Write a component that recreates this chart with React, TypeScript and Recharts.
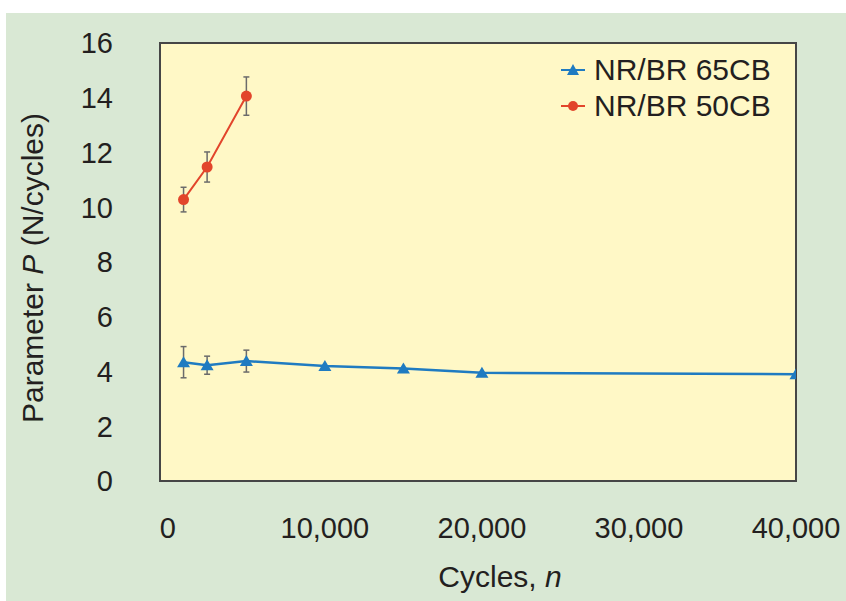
import { LineChart, Line, XAxis, YAxis, ErrorBar, ReferenceArea, Legend, Label } from 'recharts'

const cycles65 = [1000, 2500, 5000, 10000, 15000, 20000, 40000]
const param65 = [4.34, 4.23, 4.38, 4.2, 4.11, 3.95, 3.9]
const err65 = [0.57, 0.33, 0.4, null, null, null, null]

const cycles50 = [1000, 2500, 5000]
const param50 = [10.28, 11.47, 14.06]
const err50 = [0.45, 0.55, 0.7]

const seriesNames = ['NR/BR 65CB', 'NR/BR 50CB']
const xTicks = [0, 10000, 20000, 30000, 40000]
const yTicks = [0, 2, 4, 6, 8, 10, 12, 14, 16]

const BLUE = '#1f7bc1'
const RED = '#e2452b'
const INK = '#231f20'
const FONT = '"Liberation Sans", Arial, sans-serif'

const data65 = cycles65.map((n, i) => ({ n, p: param65[i], err: err65[i] }))
const data50 = cycles50.map((n, i) => ({ n, p: param50[i], err: err50[i] }))

function Triangle({ cx, cy, fill, size = 6.5 }: any) {
  if (cx == null || cy == null) return null
  return <path d={`M${cx},${cy - 6} L${cx + size},${cy + 5} L${cx - size},${cy + 5} Z`} fill={fill} />
}

function LegendBox({ payload }: any) {
  const items = [...(payload || [])].sort((a: any, b: any) => seriesNames.indexOf(a.value) - seriesNames.indexOf(b.value))
  return (
    <div style={{ fontFamily: FONT, fontSize: 30, color: INK }}>
      {items.map((e: any) => (
        <div key={e.value} style={{ display: 'flex', alignItems: 'center', height: 36, lineHeight: '36px' }}>
          <svg width={24} height={20} style={{ marginRight: 9 }}>
            <line x1={0} y1={10} x2={24} y2={10} stroke={e.color} strokeWidth={2} />
            {e.value === seriesNames[0]
              ? <Triangle cx={12} cy={10} fill={e.color} size={6} />
              : <circle cx={12} cy={10} r={5} fill={e.color} />}
          </svg>
          <span>{e.value}</span>
        </div>
      ))}
    </div>
  )
}

export default function App() {
  return (
    <div style={{ position: 'absolute', left: 0, top: 0, width: 846, height: 601, background: '#fff', overflow: 'hidden' }}>
      <div style={{ position: 'absolute', left: 6, top: 13, right: 0, bottom: 0, background: '#d9e8d4' }} />
      <div style={{ position: 'absolute', left: 0, top: 0 }}>
        <LineChart width={846} height={601} margin={{ top: 43, right: 50, bottom: 60, left: 100 }} style={{ fontFamily: FONT }}>
          <ReferenceArea x1={-500} x2={40000} y1={0} y2={16} fill="#fff8c6" fillOpacity={1} stroke="#464646" strokeWidth={2} />
          <XAxis
            dataKey="n"
            type="number"
            domain={[-500, 40000]}
            ticks={xTicks}
            allowDataOverflow
            axisLine={false}
            tickLine={false}
            tickMargin={30}
            height={60}
            tick={{ fill: INK, fontSize: 29 }}
            tickFormatter={(v: number) => v.toLocaleString('en-US')}
          >
            <Label
              content={({ viewBox }: any) => (
                <text x={viewBox.x + viewBox.width / 2 + 22} y={viewBox.y + 106} textAnchor="middle" fill={INK} fontSize={30}>
                  Cycles, <tspan fontStyle="italic">n</tspan>
                </text>
              )}
            />
          </XAxis>
          <YAxis
            type="number"
            domain={[0, 16]}
            ticks={yTicks}
            axisLine={false}
            tickLine={false}
            tickMargin={41}
            width={60}
            tick={{ fill: INK, fontSize: 29 }}
          >
            <Label
              content={({ viewBox }: any) => {
                const cx = 43
                const cy = viewBox.y + viewBox.height / 2 + 6
                return (
                  <text x={cx} y={cy} transform={`rotate(-90, ${cx}, ${cy})`} textAnchor="middle" fill={INK} fontSize={30}>
                    Parameter <tspan fontStyle="italic">P</tspan> (N/cycles)
                  </text>
                )
              }}
            />
          </YAxis>
          <Legend
            layout="horizontal"
            align="center"
            verticalAlign="middle"
            content={<LegendBox />}
            wrapperStyle={{ position: 'absolute', left: 561, top: 52, width: 240 }}
          />
          <Line
            data={data65}
            dataKey="p"
            name={seriesNames[0]}
            stroke={BLUE}
            strokeWidth={2.5}
            isAnimationActive={false}
            dot={(props: any) => <Triangle key={`t${props.index}`} cx={props.cx} cy={props.cy} fill={BLUE} />}
            activeDot={false}
          >
            <ErrorBar dataKey="err" direction="y" width={3} stroke="#6b6b6b" strokeWidth={1.5} isAnimationActive={false} />
          </Line>
          <Line
            data={data50}
            dataKey="p"
            name={seriesNames[1]}
            stroke={RED}
            strokeWidth={2}
            isAnimationActive={false}
            dot={{ r: 5.5, fill: RED, stroke: RED, strokeWidth: 0 }}
            activeDot={false}
          >
            <ErrorBar dataKey="err" direction="y" width={3} stroke="#6b6b6b" strokeWidth={1.5} isAnimationActive={false} />
          </Line>
        </LineChart>
      </div>
    </div>
  )
}
